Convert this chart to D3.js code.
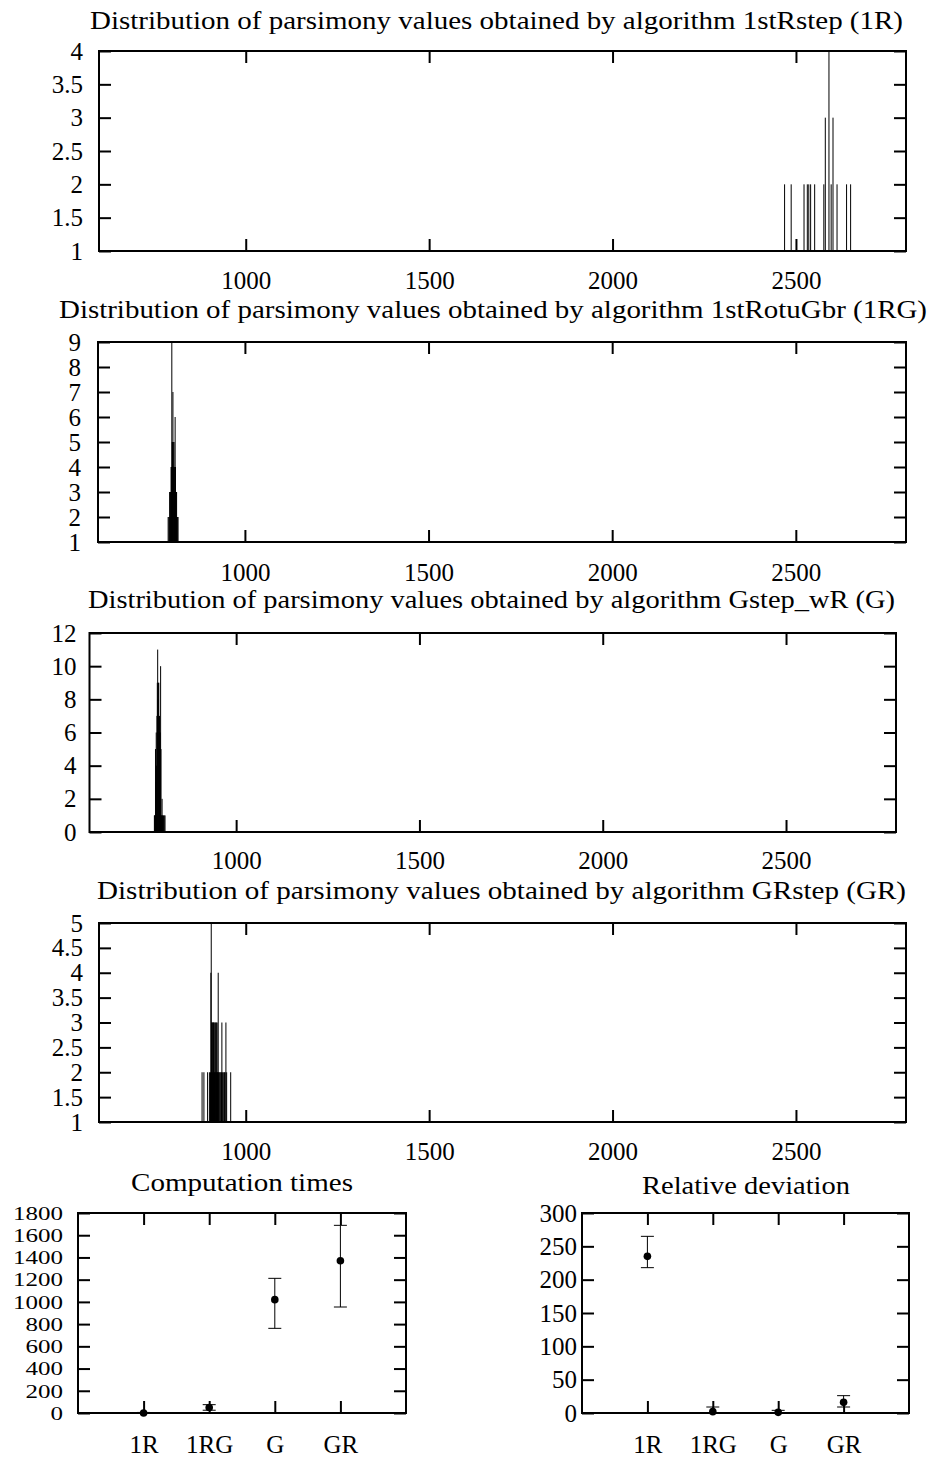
<!DOCTYPE html>
<html><head><meta charset="utf-8">
<script src="https://cdn.jsdelivr.net/npm/d3@7"></script>
<style>
body{margin:0;background:#fff}
svg{display:block}
text{font-family:"Liberation Serif","DejaVu Serif",serif;font-size:25px;fill:#000}
</style>
</head><body>
<svg id="c" width="938" height="1459"></svg>
<script>
// ---------- data ----------
const histXTicks = [1000, 1500, 2000, 2500];

// 1stRstep (1R)
const h1Values = [2469, 2487, 2522, 2531, 2535, 2540, 2551, 2576, 2580, 2590, 2596, 2601, 2612, 2638, 2649];
const h1Counts = [2, 2, 2, 2, 2, 2, 2, 2, 3, 4, 2, 3, 2, 2, 2];
const h1YTicks = [1, 1.5, 2, 2.5, 3, 3.5, 4];

// 1stRotuGbr (1RG)
const h2Values = [791, 793, 795, 796, 797, 798, 799, 800, 801, 802, 803, 804, 805, 806, 807, 808, 809, 810, 811, 812, 813, 814, 815, 816, 818];
const h2Counts = [2, 2, 3, 2, 3, 3, 4, 4, 9, 5, 5, 7, 5, 4, 5, 4, 3, 6, 4, 3, 3, 3, 2, 2, 2];
const h2YTicks = [1, 2, 3, 4, 5, 6, 7, 8, 9];

// Gstep_wR (G)
const h3Values = [777, 778, 779, 780, 781, 782, 783, 784, 785, 786, 787, 788, 789, 790, 791, 792, 793, 794, 795, 796, 797, 798, 799, 800, 802, 804, 806];
const h3Counts = [1, 1, 1, 5, 3, 6, 4, 7, 9, 11, 8, 9, 9, 6, 7, 5, 6, 10, 5, 1, 1, 2, 1, 1, 1, 1, 1];
const h3YTicks = [0, 2, 4, 6, 8, 10, 12];

// GRstep (GR)
const h4Values = [881, 886, 896, 901, 904, 905, 906, 907, 908, 909, 910, 911, 912, 913, 914, 915, 916, 917, 918, 919, 920, 921, 922, 923, 924, 925, 926, 928, 930, 932, 934, 935, 937, 940, 942, 944, 946, 948, 959];
const h4Counts = [2, 2, 2, 2, 2, 4, 5, 3, 3, 2, 3, 3, 3, 2, 3, 2, 3, 2, 3, 2, 3, 2, 3, 2, 2, 4, 2, 2, 2, 2, 2, 3, 2, 2, 2, 2, 3, 2, 2];
const h4YTicks = [1, 1.5, 2, 2.5, 3, 3.5, 4, 4.5, 5];

// summary panels
const categories = ["1R", "1RG", "G", "GR"];
const timeMean = [0, 50, 1020, 1370];
const timeLow  = [0, 25, 762, 954];
const timeHigh = [5, 75, 1212, 1689];
const timeTicks = [0, 200, 400, 600, 800, 1000, 1200, 1400, 1600, 1800];

const devMean = [235, 2, 1, 16];
const devLow  = [218, 0, 0, 9];
const devHigh = [265, 9, 4, 26];
const devTicks = [0, 50, 100, 150, 200, 250, 300];

const titles = [
  "Distribution of parsimony values obtained by algorithm 1stRstep (1R)",
  "Distribution of parsimony values obtained by algorithm 1stRotuGbr (1RG)",
  "Distribution of parsimony values obtained by algorithm Gstep_wR (G)",
  "Distribution of parsimony values obtained by algorithm GRstep (GR)",
  "Computation times",
  "Relative deviation"
];

// ---------- drawing ----------
const svg = d3.select("#c");
const TICK = 12;

function styleAxis(g, fs, digitW) {
  g.select(".domain").remove();
  g.selectAll(".tick line").attr("stroke", "#000").attr("stroke-width", 2);
  const t = g.selectAll(".tick text").attr("fill", "#000").style("font-size", (fs || 25) + "px");
  if (digitW) {
    t.attr("textLength", function() { return this.textContent.length * digitW; })
     .attr("lengthAdjust", "spacingAndGlyphs");
  }
}

function frame(box, x, y, xTicks, yTicks, yGap, xPad, xFmt, yFmt, yFs, yDigitW) {
  const g = svg.append("g");
  g.append("g").attr("transform", `translate(0,${box.bottom})`)
    .call(d3.axisBottom(x).tickValues(xTicks).tickSizeInner(-TICK).tickSizeOuter(0).tickPadding(xPad).tickFormat(xFmt))
    .call(s => styleAxis(s));
  g.append("g").attr("transform", `translate(0,${box.top})`)
    .call(d3.axisTop(x).tickValues(xTicks).tickSizeInner(-TICK).tickSizeOuter(0).tickFormat(""))
    .call(s => styleAxis(s));
  g.append("g").attr("transform", `translate(${box.left},0)`)
    .call(d3.axisLeft(y).tickValues(yTicks).tickSizeInner(-TICK).tickSizeOuter(0).tickPadding(yGap).tickFormat(yFmt))
    .call(s => styleAxis(s, yFs, yDigitW));
  g.append("g").attr("transform", `translate(${box.right},0)`)
    .call(d3.axisRight(y).tickValues(yTicks).tickSizeInner(-TICK).tickSizeOuter(0).tickFormat(""))
    .call(s => styleAxis(s));
  g.append("rect").attr("x", box.left).attr("y", box.top)
    .attr("width", box.right - box.left).attr("height", box.bottom - box.top)
    .attr("fill", "none").attr("stroke", "#000").attr("stroke-width", 2);
  return g;
}

function title(text, cx, base, len) {
  svg.append("text").attr("x", cx).attr("y", base).attr("text-anchor", "middle")
    .attr("textLength", len).attr("lengthAdjust", "spacingAndGlyphs").text(text);
}

function histogram(box, values, counts, yTicks, yGap, xPad, t) {
  const x = d3.scaleLinear().domain([600, 2800]).range([box.left, box.right]);
  const y = d3.scaleLinear().domain([yTicks[0], yTicks[yTicks.length - 1]]).range([box.bottom, box.top]);
  const ymin = yTicks[0];
  const data = values.map((v, i) => ({v, c: counts[i]}));
  svg.append("g").selectAll("line").data(data).join("line")
    .attr("x1", d => x(d.v)).attr("x2", d => x(d.v))
    .attr("y1", y(ymin)).attr("y2", d => y(Math.max(d.c, ymin)))
    .attr("stroke", "#000").attr("stroke-width", 1);
  frame(box, x, y, histXTicks, yTicks, yGap, xPad, d3.format("d"), d => String(d));
  title(t.text, t.cx, t.base, t.len);
}

histogram({left: 99, right: 906, top: 51, bottom: 251}, h1Values, h1Counts, h1YTicks, 16, 20,
  {text: titles[0], cx: 496.5, base: 29, len: 813});
histogram({left: 98, right: 906, top: 342, bottom: 542}, h2Values, h2Counts, h2YTicks, 17, 21,
  {text: titles[1], cx: 493, base: 318, len: 868});
histogram({left: 89.5, right: 896, top: 633, bottom: 832}, h3Values, h3Counts, h3YTicks, 13, 19,
  {text: titles[2], cx: 491.5, base: 608, len: 807});
histogram({left: 99, right: 906, top: 923, bottom: 1122}, h4Values, h4Counts, h4YTicks, 16, 20,
  {text: titles[3], cx: 501.5, base: 899, len: 809});

function errorPanel(box, mean, low, high, yTicks, yGap, yFs, yDigitW, t) {
  const x = d3.scaleLinear().domain([0, 5]).range([box.left, box.right]);
  const y = d3.scaleLinear().domain([yTicks[0], yTicks[yTicks.length - 1]]).range([box.bottom, box.top]);
  const data = categories.map((c, i) => ({i: i + 1, m: mean[i], lo: low[i], hi: high[i]}));
  const g = svg.append("g");
  const cap = 6.5;
  g.selectAll("line.v").data(data).join("line").attr("class", "v")
    .attr("x1", d => x(d.i)).attr("x2", d => x(d.i))
    .attr("y1", d => y(d.lo)).attr("y2", d => y(d.hi))
    .attr("stroke", "#000").attr("stroke-width", 1);
  g.selectAll("line.lo").data(data).join("line").attr("class", "lo")
    .attr("x1", d => x(d.i) - cap).attr("x2", d => x(d.i) + cap)
    .attr("y1", d => y(d.lo)).attr("y2", d => y(d.lo))
    .attr("stroke", "#000").attr("stroke-width", 1);
  g.selectAll("line.hi").data(data).join("line").attr("class", "hi")
    .attr("x1", d => x(d.i) - cap).attr("x2", d => x(d.i) + cap)
    .attr("y1", d => y(d.hi)).attr("y2", d => y(d.hi))
    .attr("stroke", "#000").attr("stroke-width", 1);
  g.selectAll("circle").data(data).join("circle")
    .attr("cx", d => x(d.i)).attr("cy", d => y(d.m)).attr("r", 3.8).attr("fill", "#000");
  frame(box, x, y, [1, 2, 3, 4], yTicks, yGap, 22, d => categories[d - 1], d => String(d), yFs, yDigitW);
  title(t.text, t.cx, t.base, t.len);
}

errorPanel({left: 78, right: 406, top: 1213, bottom: 1413}, timeMean, timeLow, timeHigh, timeTicks, 15, 19.5, 12.5,
  {text: titles[4], cx: 242, base: 1191, len: 222});
errorPanel({left: 582, right: 909, top: 1213, bottom: 1413}, devMean, devLow, devHigh, devTicks, 5, 25, 0,
  {text: titles[5], cx: 746, base: 1194, len: 208});
</script>
</body></html>
